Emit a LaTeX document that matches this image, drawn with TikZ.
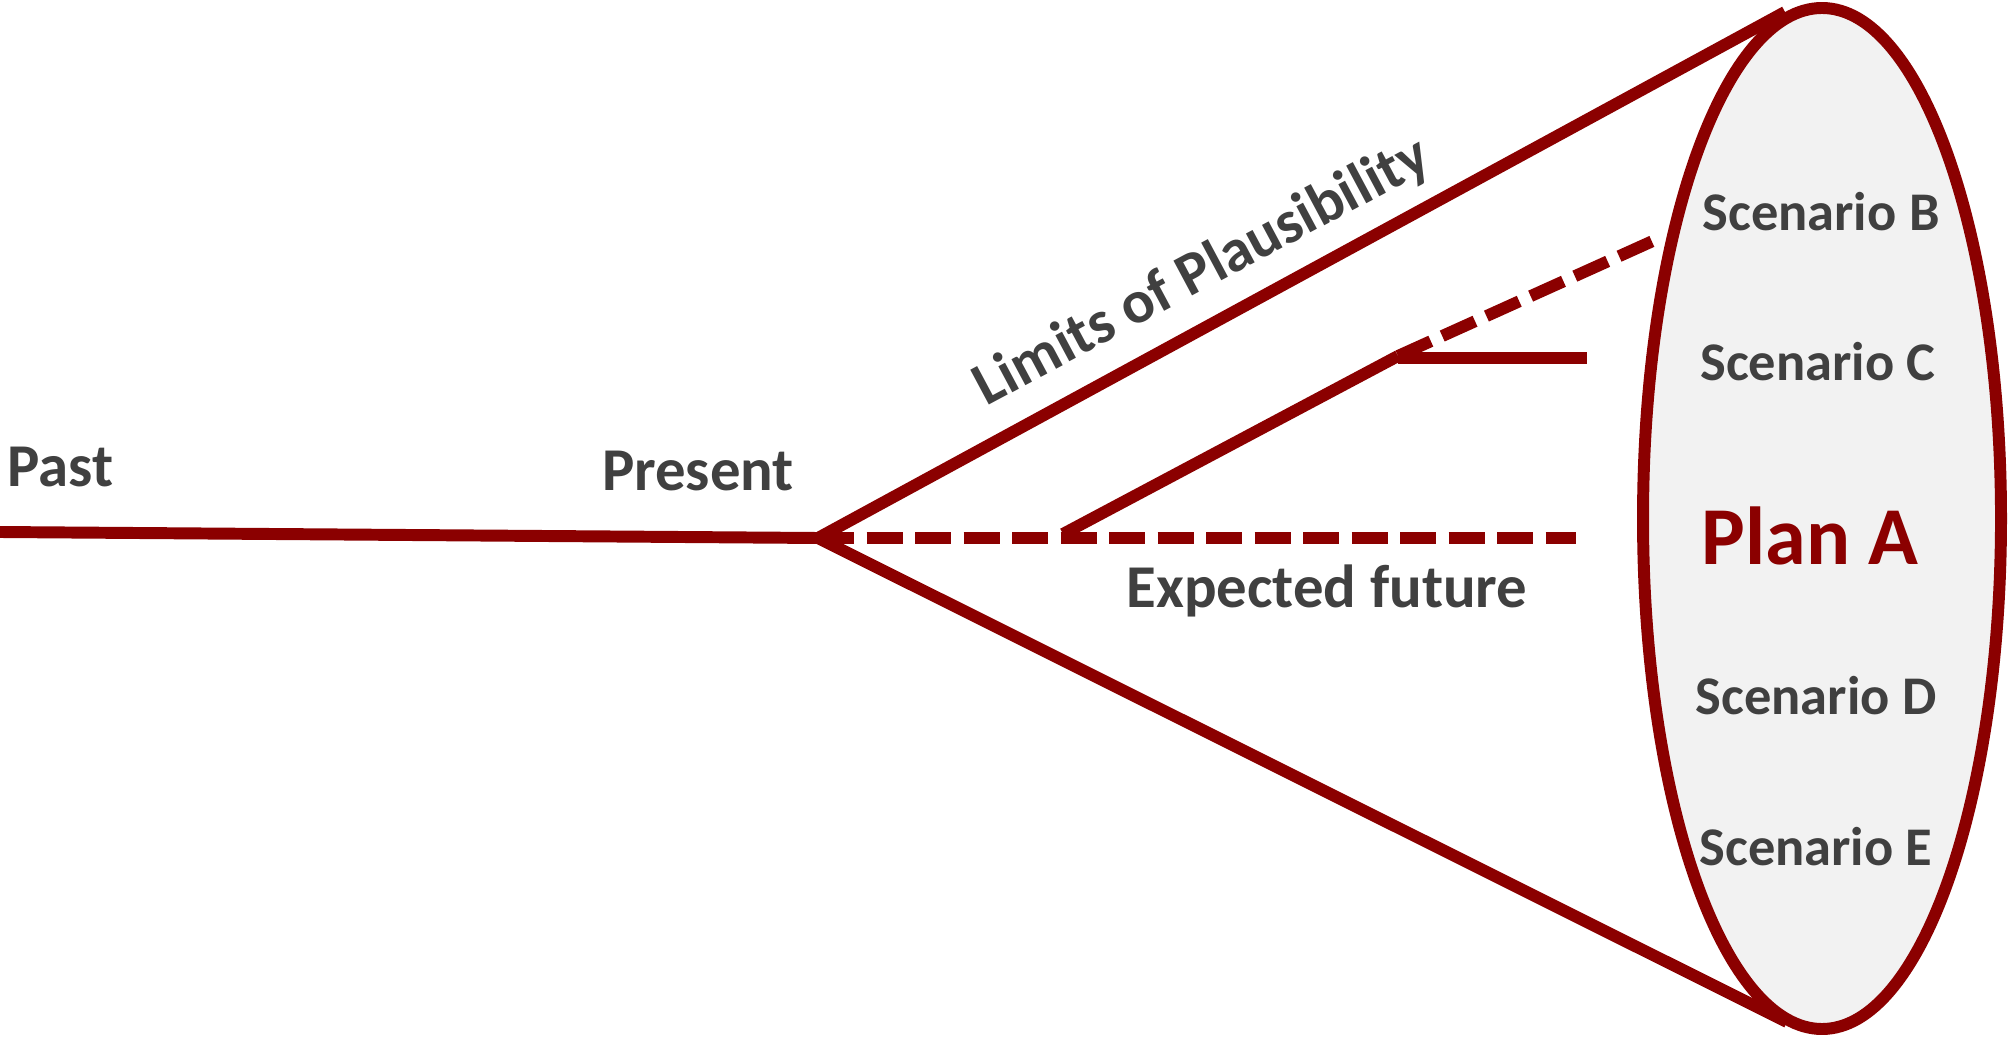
\documentclass[tikz,border=0pt]{standalone}
\usepackage{fontspec}
\setmainfont{Carlito}
\usetikzlibrary{calc,positioning}
\definecolor{plred}{HTML}{8B0000}
\definecolor{plgray}{HTML}{404040}
\definecolor{plfill}{HTML}{F2F2F2}

\begin{document}
\begin{tikzpicture}[
    edge/.style={plred,line width=3.4pt},
    dashedge/.style={edge,dash pattern=on 0.36cm off 0.125cm},
    lbl/.style={text=plgray,inner sep=0pt,anchor=base,font=\bfseries\fontsize{17.3}{20}\selectfont},
    scen/.style={lbl,font=\bfseries\fontsize{15.5}{18}\selectfont}]
       \useasboundingbox (0,0) rectangle (20.10,10.36);
       \coordinate (A) at (0.0,5.04);
       \coordinate (B) at (8.18,4.98);
       \coordinate (C) at (17.85,10.24);
       \coordinate (D) at (17.87,0.14);
       \coordinate (E) at (15.76,4.98);
       \coordinate (F) at (10.63,5.02);
       \coordinate (G) at (13.98,6.80);
       \coordinate (H) at (15.87,6.78);
       \coordinate (I) at (16.55,7.96);
       % cone of plausible futures
       \draw[edge,fill=plfill] (18.22,5.175) ellipse [x radius=1.79, y radius=5.105];
       \draw[edge] (A) -- (B);
       \draw[edge] (B) -- (C);
       \draw[edge] (B) -- (D);
       \draw[dashedge] (B) -- (E);
       \draw[edge] (F) -- (G);
       \draw[edge] (G |- H) -- (H);
       \draw[dashedge] (G) -- (I);
       % labels
       \node[lbl,anchor=base west] (past) at (0.07,5.49) {Past};
       \node[lbl] (present) at (6.98,5.45) {Present};
       \node[lbl,rotate=28.13] (limits) at (12.10,7.49) {Limits of Plausibility};
       \node[lbl] (expected) at (13.27,4.29) {Expected future};
       \node[scen] (scB) at (18.21,8.05) {Scenario B};
       \node[scen] (scC) at (18.18,6.55) {Scenario C};
       \node[lbl,text=plred,font=\bfseries\fontsize{23.4}{28}\selectfont] (planA) at (18.10,4.72) {Plan A};
       \node[scen] (scD) at (18.16,3.22) {Scenario D};
       \node[scen] (scE) at (18.16,1.71) {Scenario E};
\end{tikzpicture}
\end{document}
